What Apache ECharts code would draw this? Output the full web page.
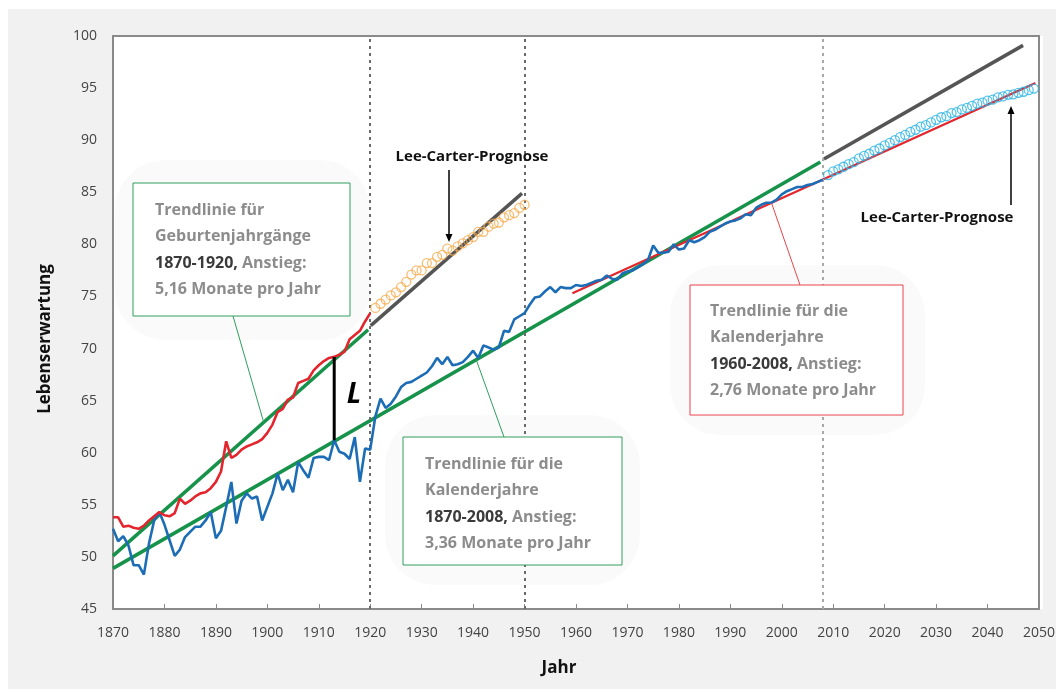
<!DOCTYPE html>
<html><head><meta charset="utf-8">
<script src="https://cdn.jsdelivr.net/npm/echarts@6/dist/echarts.min.js"></script>
<style>html,body{margin:0;padding:0;background:#fff}#c{width:1058px;height:690px}</style>
</head><body><div id="c"></div>
<script>
// ---- data ----
const blueStart = 1870; // period life expectancy (calendar years)
const blueValues = [
 52.7,51.5,52.0,51.1,49.2,49.2,48.3,51.3,53.5,54.3,
 53.1,51.6,50.1,50.7,51.9,52.4,52.9,52.9,53.5,54.3,
 51.8,52.5,54.8,57.2,53.2,55.4,56.1,55.6,55.8,53.5,
 54.8,56.1,58.0,56.4,57.4,56.2,59.1,58.3,57.6,59.5,
 59.6,59.6,59.3,61.2,60.1,59.9,59.4,61.5,57.2,60.4,
 60.3,63.5,65.2,64.3,64.7,65.4,66.3,66.7,66.8,67.1,
 67.4,67.7,68.3,69.1,68.5,69.2,68.4,68.5,68.7,69.2,
 69.8,69.1,70.3,70.1,69.9,70.1,71.7,71.6,72.8,73.1,
 73.4,74.2,74.9,75.0,75.5,75.9,75.4,75.9,75.8,75.8,
 76.1,76.0,76.1,76.3,76.5,76.6,77.0,76.7,76.6,77.2,
 77.4,77.5,77.8,78.1,78.5,79.9,79.2,79.2,79.3,80.0,
 79.5,79.6,80.4,80.2,80.4,80.7,81.2,81.4,81.7,82.0,
 82.2,82.3,82.5,82.9,82.8,83.5,83.8,84.0,84.0,84.3,
 84.8,85.1,85.3,85.5,85.5,85.7,85.8,86.0,86.2
];
const redStart = 1870; // cohort life expectancy (birth years)
const redValues = [
 53.8,53.8,52.9,53.0,52.8,52.7,53.0,53.5,53.9,54.3,
 54.0,53.9,54.2,55.6,55.1,55.4,55.8,56.1,56.2,56.6,
 57.2,58.2,61.1,59.5,59.8,60.3,60.6,60.8,61.0,61.3,
 61.9,62.7,63.9,64.2,65.1,65.3,66.7,66.9,67.1,67.9,
 68.4,68.8,69.1,69.2,69.4,69.7,70.9,71.3,71.7,72.6,
 73.4
];
const orangeStart = 1921; // Lee-Carter cohort projection
const orangeValues = [
 73.9,74.3,74.7,75.1,75.4,75.9,76.4,77.1,77.5,77.5,
 78.2,78.2,78.8,79.0,79.6,79.4,79.8,80.1,80.4,80.7,
 81.2,81.2,81.7,82.0,82.1,82.6,82.8,83.0,83.5,83.8
];
const cyanStart = 2009; // Lee-Carter period projection
const cyanValues = [
 86.65,87.0,87.2,87.45,87.7,87.9,88.25,88.5,88.7,89.0,
 89.2,89.5,89.75,90.0,90.3,90.5,90.8,91.0,91.3,91.45,
 91.7,91.95,92.2,92.3,92.6,92.7,92.95,93.1,93.3,93.5,
 93.6,93.8,93.9,94.1,94.2,94.35,94.4,94.55,94.65,94.8,
 94.95
];
const trendCohort = [[1870, 50.1], [1919.6, 71.8]];
const trendCohortExt = [[1920.1, 72.2], [1949.5, 84.9]];
const trendPeriod = [[1870, 48.9], [2007.5, 87.9]];
const trendPeriodExt = [[2008.2, 88.2], [2046.9, 99.1]];
const trendRecent = [[1959.3, 75.3], [2049.3, 95.5]];
const refYears = [1920, 1950, 2008];
const gapYear = 1913;
const xTickMin = 1870, xTickMax = 2050, xTickStep = 10;
const yTickMin = 45, yTickMax = 100, yTickStep = 5;

// ---- helpers ----
const toPairs = (start, vals) => vals.map((v, i) => [start + i, v]);
const lerp = (seg, x) => seg[0][1] + (seg[1][1] - seg[0][1]) * (x - seg[0][0]) / (seg[1][0] - seg[0][0]);
const gapData = [[gapYear, redValues[gapYear - redStart]], [gapYear, blueValues[gapYear - blueStart]]];

const FONT = "'Open Sans', 'Noto Sans', sans-serif";
const GRID = {left: 113, top: 36, right: 15, bottom: 81};

const chart = echarts.init(document.getElementById('c'), null, {renderer: 'canvas'});

function lineSeries(name, data, color, width, z) {
  return {name, type: 'line', data, symbol: 'none', z: z || 3, silent: true, animation: false,
    lineStyle: {color, width, cap: 'butt'}};
}

chart.setOption({
  animation: false,
  backgroundColor: '#ffffff',
  grid: Object.assign({show: true, backgroundColor: 'transparent', borderColor: '#8a8a8a', borderWidth: 2}, GRID),
  xAxis: {type: 'value', min: xTickMin, max: xTickMax, interval: xTickStep,
    axisLine: {show: true, lineStyle: {color: '#8a8a8a', width: 2}},
    axisTick: {show: true, inside: true, length: 5, lineStyle: {color: '#8a8a8a'}},
    axisLabel: {color: '#444', fontSize: 14, fontFamily: FONT, margin: 17, formatter: v => String(v)},
    splitLine: {show: false}},
  yAxis: {type: 'value', min: yTickMin, max: yTickMax, interval: yTickStep,
    axisLine: {show: true, lineStyle: {color: '#8a8a8a', width: 2}},
    axisTick: {show: false},
    axisLabel: {color: '#444', fontSize: 14, fontFamily: FONT, margin: 16, formatter: v => String(v)},
    splitLine: {show: false}},
  series: [
    Object.assign(lineSeries('refs', [], '#000', 0, 1), {
      markLine: {silent: true, symbol: 'none', label: {show: false}, animation: false,
        data: refYears.map((y, i) => ({xAxis: y, lineStyle: {color: i === 2 ? '#a8a8a8' : '#6a6a6a', width: 2, type: [3, 4]}}))}
    }),
    lineSeries('Trend Kalenderjahre', trendPeriod, '#16924a', 3.5, 3),
    lineSeries('Trend Kalenderjahre Prognose', trendPeriodExt, '#555555', 3.5, 3),
    lineSeries('Trend Jahrgänge', trendCohort, '#16924a', 3.5, 3),
    lineSeries('Trend Jahrgänge Prognose', trendCohortExt, '#555555', 3.5, 3),
    lineSeries('Trend 1960-2008', trendRecent, '#e3262e', 2.2, 4),
    lineSeries('Kalenderjahre', toPairs(blueStart, blueValues), '#1c6db6', 2.6, 5),
    lineSeries('Geburtenjahrgänge', toPairs(redStart, redValues), '#e3262e', 2.6, 5),
    {name: 'LC Jahrgänge', type: 'scatter', data: toPairs(orangeStart, orangeValues), symbol: 'circle', symbolSize: 9, z: 6, silent: true,
      itemStyle: {color: 'rgba(255,255,255,0)', borderColor: '#f6ae52', borderWidth: 1.3}},
    {name: 'LC Kalenderjahre', type: 'scatter', data: toPairs(cyanStart, cyanValues), symbol: 'circle', symbolSize: 9, z: 6, silent: true,
      itemStyle: {color: 'rgba(255,255,255,0)', borderColor: '#2cb4e2', borderWidth: 1.3}},
    lineSeries('L', gapData, '#000000', 3, 7)
  ]
});

// ---- annotations ----
const px = (x, y) => chart.convertToPixel({gridIndex: 0}, [x, y]);
const p1 = px(1899.3, lerp(trendCohort, 1899.3));
const p2 = px(1940.6, lerp(trendPeriod, 1940.6));
const p3 = px(1998.0, lerp(trendRecent, 1998.0));
const W = 1058, H = 690;
const plotL = GRID.left, plotT = GRID.top, plotW = W - GRID.left - GRID.right, plotH = H - GRID.top - GRID.bottom;

function box(x, y, w, h, stroke) {
  return {type: 'rect', z: 50, shape: {x, y, width: w, height: h}, style: {fill: '#fff', stroke, lineWidth: 1}};
}
function glow(x, y, w, h) {
  return {type: 'rect', z: -8, shape: {x, y, width: w, height: h, r: 50},
    style: {fill: 'rgba(0,0,0,0.018)', shadowBlur: 80, shadowColor: 'rgba(0,0,0,0.07)'}};
}
const G = '#8c8c8c', D = '#3a3a3a';
function richText(x, y, lines) {
  const txt = lines.map(l => l.map(([t, c]) => '{' + (c === D ? 'd' : 'g') + '|' + t + '}').join('')).join('\n');
  const st = (c) => ({fill: c, color: c, fontWeight: 'bold', fontSize: 16, fontFamily: FONT, lineHeight: 26.5});
  return {type: 'text', z: 52, x, y, style: {text: txt, font: 'bold 16px ' + FONT, fill: G, lineHeight: 26.5,
    rich: {g: st(G), d: st(D)}}};
}
function arrow(x, y1, y2) {
  const dir = y2 > y1 ? 1 : -1;
  return [
    {type: 'line', z: 60, shape: {x1: x, y1, x2: x, y2: y2 - dir * 6}, style: {stroke: '#000', lineWidth: 1.5}},
    {type: 'polygon', z: 60, shape: {points: [[x - 3.5, y2 - dir * 8], [x + 3.5, y2 - dir * 8], [x, y2]]}, style: {fill: '#000'}}
  ];
}

chart.setOption({graphic: {elements: [
  {type: 'rect', z: -10, shape: {x: 8, y: 9, width: 1048, height: 680}, style: {fill: '#f0f1f0'}},
  {type: 'rect', z: -9, shape: {x: plotL, y: plotT, width: plotW, height: plotH}, style: {fill: '#ffffff'}},
  glow(115, 160, 255, 180),
  glow(385, 415, 255, 170),
  glow(670, 265, 255, 170),
  // leader lines
  {type: 'line', z: 49, shape: {x1: 233, y1: 316, x2: p1[0], y2: p1[1]}, style: {stroke: '#2f9e5e', lineWidth: 1}},
  {type: 'line', z: 49, shape: {x1: p2[0], y1: p2[1], x2: 504, y2: 437}, style: {stroke: '#2f9e5e', lineWidth: 1}},
  {type: 'line', z: 49, shape: {x1: p3[0], y1: p3[1], x2: 800, y2: 285}, style: {stroke: '#e8454c', lineWidth: 1}},
  box(133, 183, 217, 133, '#2f9e5e'),
  box(403, 437, 219, 128, '#2f9e5e'),
  box(690, 285, 213, 130, '#e8454c'),
  richText(155, 197, [[['Trendlinie für', G]], [['Geburtenjahrgänge', G]], [['1870-1920,', D], [' Anstieg:', G]], [['5,16 Monate pro Jahr', G]]]),
  richText(425, 451, [[['Trendlinie für die', G]], [['Kalenderjahre', G]], [['1870-2008,', D], [' Anstieg:', G]], [['3,36 Monate pro Jahr', G]]]),
  richText(710, 298, [[['Trendlinie für die', G]], [['Kalenderjahre', G]], [['1960-2008,', D], [' Anstieg:', G]], [['2,76 Monate pro Jahr', G]]]),
  {type: 'text', z: 60, x: 472, y: 157, style: {text: 'Lee-Carter-Prognose', font: 'bold 15px ' + FONT, fill: '#111', align: 'center', verticalAlign: 'middle'}},
  {type: 'text', z: 60, x: 937, y: 218, style: {text: 'Lee-Carter-Prognose', font: 'bold 15px ' + FONT, fill: '#111', align: 'center', verticalAlign: 'middle'}},
  ...arrow(449, 170, 242),
  ...arrow(1011, 205, 106),
  {type: 'text', z: 60, x: 354, y: 395, style: {text: 'L', font: 'italic bold 28px ' + FONT, fill: '#000', align: 'center', verticalAlign: 'middle'}},
  {type: 'text', z: 60, x: 45, y: 339, rotation: Math.PI / 2, style: {text: 'Lebenserwartung', font: 'bold 17px ' + FONT, fill: '#111', align: 'center', verticalAlign: 'middle'}},
  {type: 'text', z: 60, x: 559, y: 668, style: {text: 'Jahr', font: 'bold 17px ' + FONT, fill: '#111', align: 'center', verticalAlign: 'middle'}}
]}});
</script>
</body></html>
